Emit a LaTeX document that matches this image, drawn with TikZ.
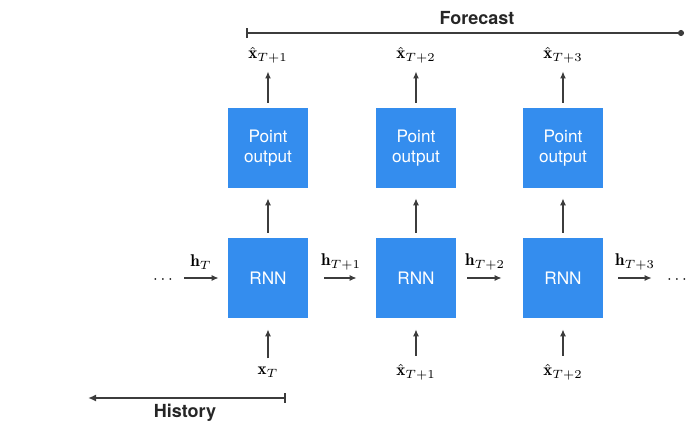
\documentclass[tikz,border=0pt]{standalone}
\usepackage{fontspec}
\setsansfont{TeX Gyre Heros}
\usetikzlibrary{arrows.meta}
\definecolor{boxblue}{RGB}{52,141,238}
\definecolor{linegray}{RGB}{60,60,60}
\begin{document}
\begin{tikzpicture}[x=0.5pt,y=-0.5pt,
  blk/.style={fill=boxblue, draw=none, minimum width=40pt, minimum height=40pt,
    text=white, font=\sffamily\fontsize{8.6}{10}\selectfont, align=center, inner sep=0pt},
  arr/.style={-{Latex[length=3.5pt,width=3pt]}, linegray, line width=0.6pt},
  lab/.style={font=\fontsize{8.5}{9}\selectfont, inner sep=1pt},
  ttl/.style={font=\sffamily\bfseries\fontsize{9}{10}\selectfont, text=black!85}]
\useasboundingbox (0,0) rectangle (686,423);
% boxes
\node[blk] (p1) at (268,148) {Point\\output};
\node[blk] (p2) at (416,148) {Point\\output};
\node[blk] (p3) at (563,148) {Point\\output};
\node[blk] (r1) at (268,278) {RNN};
\node[blk] (r2) at (416,278) {RNN};
\node[blk] (r3) at (563,278) {RNN};
% output labels
\node[lab] (o1) at (268,55) {$\hat{\mathbf{x}}_{T+1}$};
\node[lab] (o2) at (416,55) {$\hat{\mathbf{x}}_{T+2}$};
\node[lab] (o3) at (563,55) {$\hat{\mathbf{x}}_{T+3}$};
% input labels
\node[lab] (i1) at (268,372) {$\mathbf{x}_{T}$};
\node[lab] (i2) at (416,372) {$\hat{\mathbf{x}}_{T+1}$};
\node[lab] (i3) at (563,372) {$\hat{\mathbf{x}}_{T+2}$};
% dots
\node[lab] (dl) at (163,280) {$\cdots$};
\node[lab] (dr) at (677,280) {$\cdots$};
% hidden state labels
\node[lab] (h0) at (201,262) {$\mathbf{h}_{T}$};
\node[lab] (h1) at (341,262) {$\mathbf{h}_{T+1}$};
\node[lab] (h2) at (485,262) {$\mathbf{h}_{T+2}$};
\node[lab] (h3) at (635,262) {$\mathbf{h}_{T+3}$};
% vertical arrows
\foreach \i in {1,2,3}{
  \draw[arr, shorten <=2.5pt, shorten >=3pt] (p\i.north) -- (p\i.north |- o\i.south);
  \draw[arr, shorten <=2.5pt, shorten >=5pt] (r\i.north) -- (p\i.south);
  \draw[arr, shorten <=3pt, shorten >=5.5pt] (r\i.south |- i\i.north) -- (r\i.south);
}
% horizontal arrows
\draw[arr, shorten <=4.5pt, shorten >=4.5pt] (dl.east |- r1.west) -- (r1.west);
\draw[arr, shorten <=8pt, shorten >=9.5pt] (r1.east) -- (r2.west);
\draw[arr, shorten <=5.5pt, shorten >=10.5pt] (r2.east) -- (r3.west);
\draw[arr, shorten <=7.5pt, shorten >=6.5pt] (r3.east) -- (dr.west |- r3.east);
% forecast / history
\coordinate (fl) at (246,33);
\coordinate (fr) at (684,33);
\draw[linegray, line width=0.8pt, {Bar[width=5pt]}-{Circle[length=3pt]}] (fl) -- (fr);
\node[ttl] (ft) at (477,18) {Forecast};
\coordinate (hl) at (88,398);
\coordinate (hr) at (286,398);
\draw[linegray, line width=0.8pt, {Latex[length=4pt,width=3.5pt]}-{Bar[width=5pt]}] (hl) -- (hr);
\node[ttl] (ht) at (185,413) {History};
\end{tikzpicture}
\end{document}
